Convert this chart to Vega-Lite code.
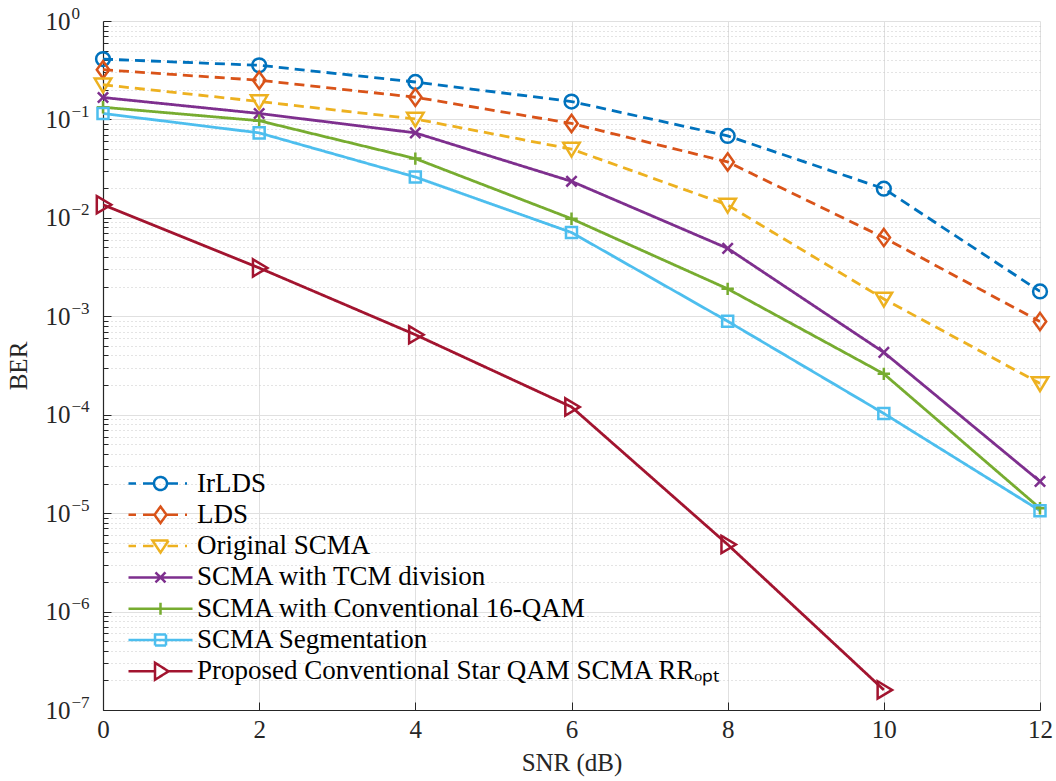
{
  "$schema": "https://vega.github.io/schema/vega-lite/v6.json",
  "width": 937,
  "height": 689,
  "autosize": {"type": "none"},
  "padding": {"left": 103, "top": 21, "right": 16, "bottom": 71},
  "background": "white",
  "config": {
    "font": "Liberation Serif",
    "view": {"stroke": null},
    "axis": {
      "labelFont": "Liberation Serif",
      "titleFont": "Liberation Serif",
      "labelFontSize": 25,
      "titleFontSize": 25,
      "titleFontWeight": "normal",
      "labelColor": "#262626",
      "titleColor": "#262626",
      "domainColor": "#262626",
      "domainWidth": 1.2,
      "tickColor": "#262626",
      "gridColor": "#e0e0e0",
      "gridWidth": 1
    }
  },
  "resolve": {"axis": {"y": "independent"}},
  "data": {
    "values": [
      {"series": "IrLDS", "snr": 0, "ber": 0.41},
      {"series": "IrLDS", "snr": 2, "ber": 0.355},
      {"series": "IrLDS", "snr": 4, "ber": 0.24},
      {"series": "IrLDS", "snr": 6, "ber": 0.152},
      {"series": "IrLDS", "snr": 8, "ber": 0.068},
      {"series": "IrLDS", "snr": 10, "ber": 0.0198},
      {"series": "IrLDS", "snr": 12, "ber": 0.00179},
      {"series": "LDS", "snr": 0, "ber": 0.32},
      {"series": "LDS", "snr": 2, "ber": 0.25},
      {"series": "LDS", "snr": 4, "ber": 0.168},
      {"series": "LDS", "snr": 6, "ber": 0.091},
      {"series": "LDS", "snr": 8, "ber": 0.037},
      {"series": "LDS", "snr": 10, "ber": 0.0063},
      {"series": "LDS", "snr": 12, "ber": 0.000885},
      {"series": "Original SCMA", "snr": 0, "ber": 0.225},
      {"series": "Original SCMA", "snr": 2, "ber": 0.152},
      {"series": "Original SCMA", "snr": 4, "ber": 0.101},
      {"series": "Original SCMA", "snr": 6, "ber": 0.05},
      {"series": "Original SCMA", "snr": 8, "ber": 0.0135},
      {"series": "Original SCMA", "snr": 10, "ber": 0.0015},
      {"series": "Original SCMA", "snr": 12, "ber": 0.000208},
      {"series": "SCMA with TCM division", "snr": 0, "ber": 0.167},
      {"series": "SCMA with TCM division", "snr": 2, "ber": 0.115},
      {"series": "SCMA with TCM division", "snr": 4, "ber": 0.073},
      {"series": "SCMA with TCM division", "snr": 6, "ber": 0.0235},
      {"series": "SCMA with TCM division", "snr": 8, "ber": 0.0049},
      {"series": "SCMA with TCM division", "snr": 10, "ber": 0.00043},
      {"series": "SCMA with TCM division", "snr": 12, "ber": 0.000021},
      {"series": "SCMA with Conventional 16-QAM", "snr": 0, "ber": 0.133},
      {"series": "SCMA with Conventional 16-QAM", "snr": 2, "ber": 0.097},
      {"series": "SCMA with Conventional 16-QAM", "snr": 4, "ber": 0.04},
      {"series": "SCMA with Conventional 16-QAM", "snr": 6, "ber": 0.0098},
      {"series": "SCMA with Conventional 16-QAM", "snr": 8, "ber": 0.0019},
      {"series": "SCMA with Conventional 16-QAM", "snr": 10, "ber": 0.00026},
      {"series": "SCMA with Conventional 16-QAM", "snr": 12, "ber": 0.0000112},
      {"series": "SCMA Segmentation", "snr": 0, "ber": 0.115},
      {"series": "SCMA Segmentation", "snr": 2, "ber": 0.073},
      {"series": "SCMA Segmentation", "snr": 4, "ber": 0.026},
      {"series": "SCMA Segmentation", "snr": 6, "ber": 0.0071},
      {"series": "SCMA Segmentation", "snr": 8, "ber": 0.00089},
      {"series": "SCMA Segmentation", "snr": 10, "ber": 0.000103},
      {"series": "SCMA Segmentation", "snr": 12, "ber": 0.0000106},
      {"series": "Proposed Conventional Star QAM SCMA RRₒₚₜ", "snr": 0, "ber": 0.0136},
      {"series": "Proposed Conventional Star QAM SCMA RRₒₚₜ", "snr": 2, "ber": 0.0031},
      {"series": "Proposed Conventional Star QAM SCMA RRₒₚₜ", "snr": 4, "ber": 0.00065},
      {"series": "Proposed Conventional Star QAM SCMA RRₒₚₜ", "snr": 6, "ber": 0.00012},
      {"series": "Proposed Conventional Star QAM SCMA RRₒₚₜ", "snr": 8, "ber": 0.0000048},
      {"series": "Proposed Conventional Star QAM SCMA RRₒₚₜ", "snr": 10, "ber": 0.00000016}
    ]
  },
  "layer": [
    {
      "mark": {"type": "line", "strokeWidth": 2.8, "clip": true},
      "encoding": {
        "x": {
          "field": "snr", "type": "quantitative",
          "scale": {"domain": [0, 12], "nice": false, "zero": false},
          "axis": {
            "title": "SNR (dB)",
            "values": [0, 2, 4, 6, 8, 10, 12],
            "format": "d",
            "grid": true,
            "tickSize": -8,
            "labelPadding": 15,
            "labelFlush": false,
            "titlePadding": 8
          }
        },
        "y": {
          "field": "ber", "type": "quantitative",
          "scale": {"type": "log", "domain": [1e-7, 1], "nice": false},
          "axis": {
            "title": "BER",
            "orient": "left",
            "values": [1e-7,2e-7,3e-7,4e-7,5e-7,6e-7,7e-7,8e-7,9e-7,
                       1e-6,2e-6,3e-6,4e-6,5e-6,6e-6,7e-6,8e-6,9e-6,
                       1e-5,2e-5,3e-5,4e-5,5e-5,6e-5,7e-5,8e-5,9e-5,
                       1e-4,2e-4,3e-4,4e-4,5e-4,6e-4,7e-4,8e-4,9e-4,
                       1e-3,2e-3,3e-3,4e-3,5e-3,6e-3,7e-3,8e-3,9e-3,
                       1e-2,2e-2,3e-2,4e-2,5e-2,6e-2,7e-2,8e-2,9e-2,
                       1e-1,2e-1,3e-1,4e-1,5e-1,6e-1,7e-1,8e-1,9e-1,1],
            "labelExpr": "abs(log(datum.value)/LN10 - round(log(datum.value)/LN10)) < 1e-6 ? '10' : ''",
            "grid": true,
            "gridDash": {"condition": {"test": "abs(log(datum.value)/LN10 - round(log(datum.value)/LN10)) < 1e-6", "value": []}, "value": [1, 3]},
            "gridColor": {"condition": {"test": "abs(log(datum.value)/LN10 - round(log(datum.value)/LN10)) < 1e-6", "value": "#e0e0e0"}, "value": "#c8c8c8"},
            "tickSize": {"condition": {"test": "abs(log(datum.value)/LN10 - round(log(datum.value)/LN10)) < 1e-6", "value": -8}, "value": -5},
            "labelPadding": 41,
            "labelFlush": false,
            "labelOverlap": false,
            "titlePadding": 14
          }
        },
        "color": {
          "field": "series", "type": "nominal",
          "scale": {
            "domain": ["IrLDS", "LDS", "Original SCMA", "SCMA with TCM division", "SCMA with Conventional 16-QAM", "SCMA Segmentation", "Proposed Conventional Star QAM SCMA RRₒₚₜ"],
            "range": ["#0072BD", "#D95319", "#EDB120", "#7E2F8E", "#77AC30", "#4DBEEE", "#A2142F"]
          },
          "legend": {
            "title": null,
            "orient": "none",
            "legendX": 21,
            "legendY": 449,
            "padding": 0,
            "labelFont": "Liberation Serif",
            "labelFontSize": 27,
            "labelColor": "#000000",
            "labelLimit": 700,
            "symbolSize": 100,
            "symbolStrokeWidth": 2.5,
            "symbolOffset": 23,
            "labelOffset": 23,
            "rowPadding": 3.3,
            "encode": {
              "symbols": {
                "update": {
                  "shape": {"signal": "['M-6.4,0L-4.9,0M-3.5,0L-1.3,0M1.3,0L3.5,0M4.9,0L5.3,0M1.3,0A1.3,1.3 0 1,1 -1.3,0A1.3,1.3 0 1,1 1.3,0Z','M-6.4,0L-4.9,0M-3.5,0L-1.2,0M1.2,0L3.5,0M4.9,0L5.3,0M0,-1.65L1.2,0L0,1.65L-1.2,0Z','M-6.4,0L-4.9,0M-3.5,0L-1.4,0M1.4,0L3.5,0M4.9,0L5.3,0M-1.6,-1.1L1.6,-1.1L0,1.3Z','M-6.4,0L6.4,0M-1,-1L1,1M-1,1L1,-1','M-6.4,0L6.4,0M0,-1.2L0,1.2','M-6.4,0L6.4,0M-1.1,-1.1L1.1,-1.1L1.1,1.1L-1.1,1.1Z','M-6.4,0L-1.1,0M1.6,0L6.4,0M-1.1,-1.7L1.6,0L-1.1,1.7Z'][indexof(['IrLDS','LDS','Original SCMA','SCMA with TCM division','SCMA with Conventional 16-QAM','SCMA Segmentation','Proposed Conventional Star QAM SCMA RRₒₚₜ'], datum.value)]"},
                  "fill": {"value": "transparent"},
                  "strokeDash": {"value": [1, 0]},
                  "opacity": {"value": 1}
                }
              }
            }
          }
        },
        "strokeDash": {
          "condition": {"test": "indexof(['IrLDS','LDS','Original SCMA'], datum.series) >= 0", "value": [10, 6]},
          "value": [1, 0]
        }
      }
    },
    {
      "mark": {"type": "point", "filled": false, "strokeWidth": 2.5, "size": 190, "opacity": 1, "clip": false},
      "encoding": {
        "x": {"field": "snr", "type": "quantitative"},
        "y": {
          "field": "ber", "type": "quantitative",
          "axis": {
            "orient": "left",
            "title": null,
            "values": [1e-7, 1e-6, 1e-5, 1e-4, 1e-3, 1e-2, 1e-1, 1],
            "labelExpr": "['0','−1','−2','−3','−4','−5','−6','−7'][round(-log(datum.value)/LN10)]",
            "labelFontSize": 17,
            "labelAlign": "left",
            "labelBaseline": "middle",
            "labelOffset": -8,
            "labelPadding": 32,
            "ticks": false,
            "domain": false,
            "grid": false,
            "labelFlush": false,
            "labelOverlap": false
          }
        },
        "color": {
          "condition": [
            {"test": "datum.series === 'IrLDS'", "value": "#0072BD"},
            {"test": "datum.series === 'LDS'", "value": "#D95319"},
            {"test": "datum.series === 'Original SCMA'", "value": "#EDB120"},
            {"test": "datum.series === 'SCMA with TCM division'", "value": "#7E2F8E"},
            {"test": "datum.series === 'SCMA with Conventional 16-QAM'", "value": "#77AC30"},
            {"test": "datum.series === 'SCMA Segmentation'", "value": "#4DBEEE"}
          ],
          "value": "#A2142F"
        },
        "shape": {
          "condition": [
            {"test": "datum.series === 'IrLDS'", "value": "circle"},
            {"test": "datum.series === 'LDS'", "value": "M0,-1.25L0.9,0L0,1.25L-0.9,0Z"},
            {"test": "datum.series === 'Original SCMA'", "value": "M-1.2,-0.9L1.2,-0.9L0,1.1Z"},
            {"test": "datum.series === 'SCMA with TCM division'", "value": "M-0.75,-0.75L0.75,0.75M-0.75,0.75L0.75,-0.75"},
            {"test": "datum.series === 'SCMA with Conventional 16-QAM'", "value": "M-0.9,0L0.9,0M0,-0.9L0,0.9"},
            {"test": "datum.series === 'SCMA Segmentation'", "value": "M-0.8,-0.8L0.8,-0.8L0.8,0.8L-0.8,0.8Z"}
          ],
          "value": "M-0.9,-1.25L1.2,0L-0.9,1.25Z"
        }
      }
    }
  ]
}
